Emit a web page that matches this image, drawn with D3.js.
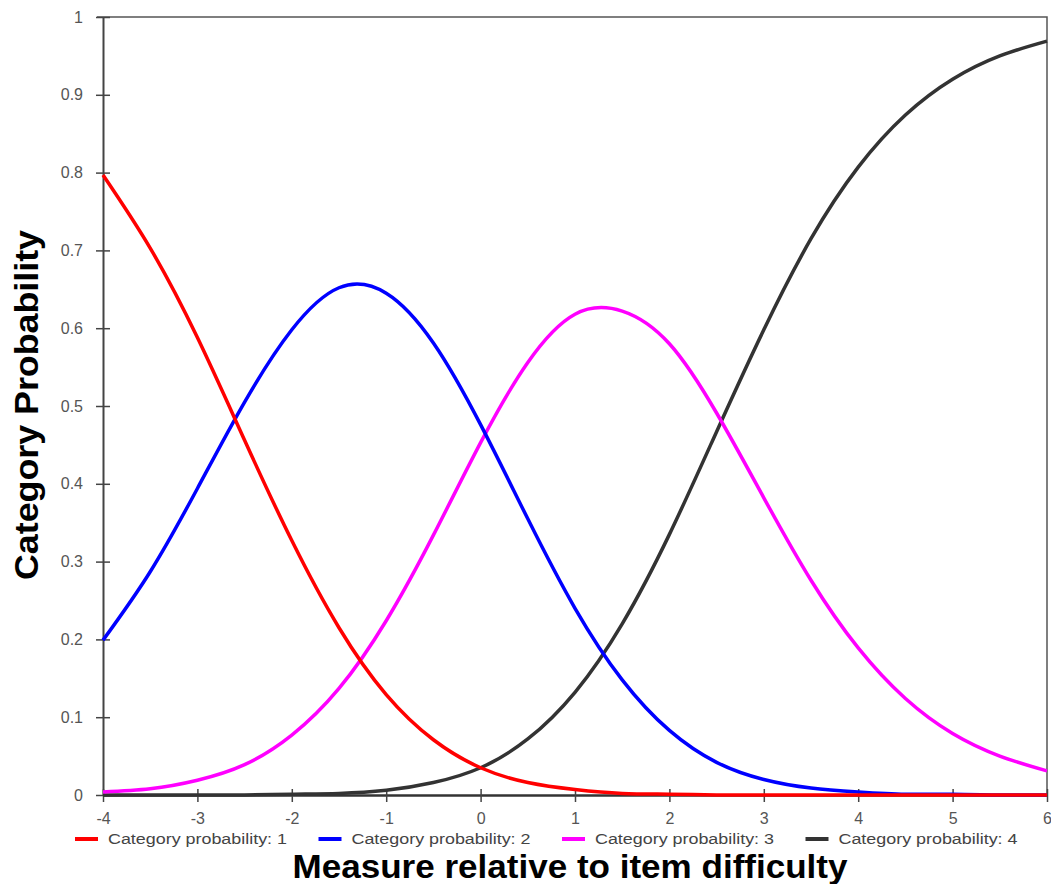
<!DOCTYPE html>
<html>
<head>
<meta charset="utf-8">
<title>Category Probability</title>
<script src="https://d3js.org/d3.v7.min.js"></script>
<style>
  body { margin: 0; background: #fff; }
  text { font-family: "Liberation Sans", Arial, sans-serif; }
</style>
</head>
<body>
<div id="chart"></div>
<script>
// measure values (x axis)
var measures = [-4, -3.5, -3, -2.5, -2, -1.5, -1, -0.5, 0, 0.5, 1, 1.5, 2, 2.5, 3, 3.5, 4, 4.5, 5, 5.5, 6];
// probabilities
var cat1 = [0.797, 0.703, 0.588, 0.456, 0.327, 0.215, 0.129, 0.071, 0.035, 0.016, 0.007, 0.002, 0.001, 0, 0, 0, 0, 0, 0, 0, 0];
var cat2 = [0.199, 0.287, 0.394, 0.505, 0.598, 0.652, 0.645, 0.581, 0.476, 0.355, 0.240, 0.148, 0.083, 0.042, 0.020, 0.009, 0.004, 0.001, 0.001, 0, 0];
var cat3 = [0.004, 0.008, 0.019, 0.039, 0.077, 0.137, 0.224, 0.334, 0.453, 0.556, 0.618, 0.622, 0.580, 0.491, 0.382, 0.276, 0.189, 0.124, 0.079, 0.050, 0.031];
var cat4 = [0, 0, 0, 0, 0.001, 0.002, 0.006, 0.016, 0.035, 0.072, 0.132, 0.220, 0.335, 0.467, 0.598, 0.715, 0.807, 0.874, 0.920, 0.950, 0.969];

var seriesNames = ["Category probability: 1", "Category probability: 2", "Category probability: 3", "Category probability: 4"];
var seriesColors = ["#ff0000", "#0000ff", "#ff00ff", "#333333"];
var xTicks = [-4, -3, -2, -1, 0, 1, 2, 3, 4, 5, 6];
var yTicks = [0, 0.1, 0.2, 0.3, 0.4, 0.5, 0.6, 0.7, 0.8, 0.9, 1];

var width = 1051, height = 884;
var svg = d3.select("#chart").append("svg")
    .attr("width", width)
    .attr("height", height);

var x = d3.scaleLinear().domain([-4, 6]).range([103, 1047]);
var y = d3.scaleLinear().domain([0, 1]).range([795, 17]);

// frame (top + right)
svg.append("path")
    .attr("d", "M97," + y(1) + "H" + x(6) + "V" + y(0))
    .attr("fill", "none")
    .attr("stroke", "#555")
    .attr("stroke-width", 1.5);

// y axis
var yAxis = svg.append("g")
    .attr("transform", "translate(" + x(-4) + ",0)")
    .call(d3.axisLeft(y).tickValues(yTicks).tickSize(0).tickPadding(20)
      .tickFormat(function(d) { return d === 0 || d === 1 ? d : d3.format(".1f")(d); }));
yAxis.select(".domain").attr("stroke", "#444").attr("stroke-width", 2);
yAxis.selectAll(".tick line").attr("x1", -7).attr("x2", 7).attr("stroke", "#444").attr("stroke-width", 1.5);
yAxis.selectAll(".tick text").attr("font-size", 16).attr("fill", "#555");

// x axis
var xAxis = svg.append("g")
    .attr("transform", "translate(0," + y(0) + ")")
    .call(d3.axisBottom(x).tickValues(xTicks).tickSize(0).tickPadding(18)
      .tickFormat(function(d) { return String(d); }));
xAxis.select(".domain").attr("stroke", "#333").attr("stroke-width", 2.5);
xAxis.selectAll(".tick line").attr("y1", -6).attr("y2", 7).attr("stroke", "#444").attr("stroke-width", 1.5);
xAxis.selectAll(".tick text").attr("font-size", 16).attr("fill", "#555");

// curves
var seriesData = [cat1, cat2, cat3, cat4];
var line = d3.line()
    .x(function(d, i) { return x(measures[i]); })
    .y(function(d) { return y(d); })
    .curve(d3.curveNatural);

// draw black first so the red ends up on top
[3, 2, 1, 0].forEach(function(k) {
  svg.append("path")
      .datum(seriesData[k])
      .attr("fill", "none")
      .attr("stroke", seriesColors[k])
      .attr("stroke-width", 3.5)
      .attr("d", line);
});

// legend
var legend = svg.append("g").attr("transform", "translate(75,839)");
var item = legend.selectAll("g")
    .data(seriesNames)
    .enter().append("g")
    .attr("transform", function(d, i) { return "translate(" + (i * 243.5) + ",0)"; });
item.append("line")
    .attr("x1", 0).attr("x2", 23)
    .attr("stroke", function(d, i) { return seriesColors[i]; })
    .attr("stroke-width", 4);
item.append("text")
    .attr("x", 33)
    .attr("dy", "0.35em")
    .attr("font-size", 15.5)
    .attr("textLength", 179)
    .attr("lengthAdjust", "spacingAndGlyphs")
    .attr("fill", "#444")
    .text(function(d) { return d; });

// axis titles
svg.append("text")
    .attr("x", 570)
    .attr("y", 878)
    .attr("text-anchor", "middle")
    .attr("font-size", 34)
    .attr("font-weight", "bold")
    .attr("textLength", 555)
    .attr("lengthAdjust", "spacingAndGlyphs")
    .text("Measure relative to item difficulty");

svg.append("text")
    .attr("transform", "translate(38,405) rotate(-90)")
    .attr("text-anchor", "middle")
    .attr("font-size", 33)
    .attr("font-weight", "bold")
    .attr("textLength", 350)
    .attr("lengthAdjust", "spacingAndGlyphs")
    .text("Category Probability");
</script>
</body>
</html>
